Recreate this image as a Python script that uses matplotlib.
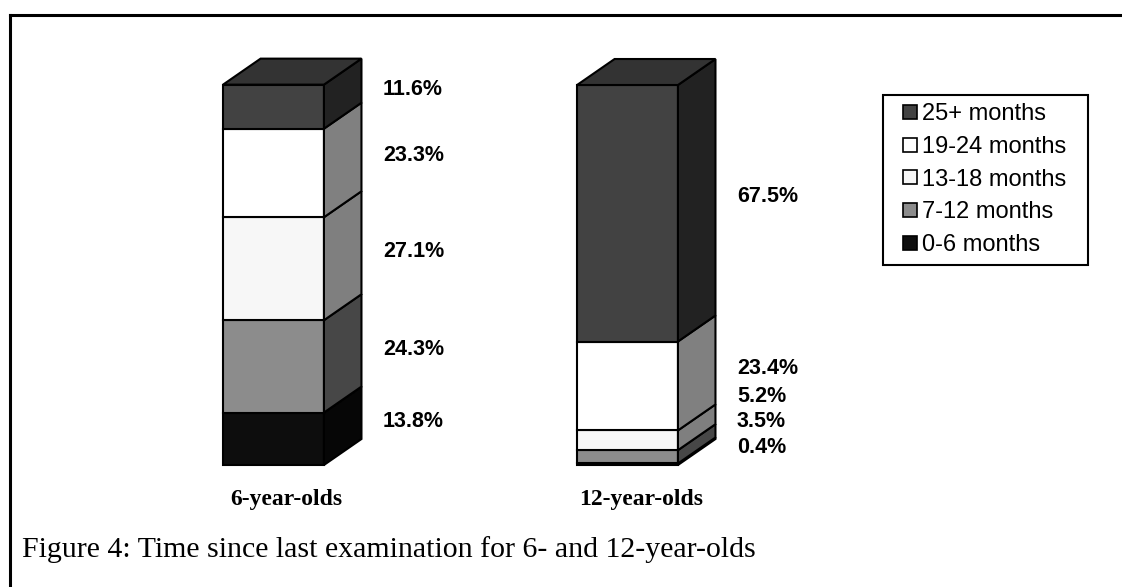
"""Figure 4 : barres empilées en pseudo-3D, temps depuis le dernier examen (6 et 12 ans)."""
import numpy as np
import matplotlib.pyplot as plt
from matplotlib.patches import Polygon
from matplotlib.lines import Line2D

GROUPS = ["6-year-olds", "12-year-olds"]
CATEGORIES = ["0-6 months", "7-12 months", "13-18 months", "19-24 months", "25+ months"]
SIX_YEAR = [13.8, 24.3, 27.1, 23.3, 11.6]
TWELVE_YEAR = [0.4, 3.5, 5.2, 23.4, 67.5]

FRONT = ["#0d0d0d", "#8c8c8c", "#f7f7f7", "#ffffff", "#424242"]
SIDE = ["#060606", "#474747", "#7f7f7f", "#808080", "#222222"]
TOP = ["#080808", "#6a6a6a", "#bcbcbc", "#c0c0c0", "#333333"]

W, H = 1122, 587
BAR_W = 0.285         # largeur de la face avant (unités x)
DX, DY = 0.106, 6.84  # profondeur 3D (x en unités, y en %)


def draw_bar(ax, x0, values):
    bottom = 0.0
    xl, xr = x0 - BAR_W / 2, x0 + BAR_W / 2
    for i, v in enumerate(values):
        top = bottom + v
        ax.add_patch(Polygon([(xl, bottom), (xr, bottom), (xr, top), (xl, top)],
                             fc=FRONT[i], ec="black", lw=1.5, clip_on=False, joinstyle="miter"))
        ax.add_patch(Polygon([(xr, bottom), (xr + DX, bottom + DY), (xr + DX, top + DY), (xr, top)],
                             fc=SIDE[i], ec="black", lw=1.5, clip_on=False, joinstyle="miter"))
        bottom = top
    # face du dessus (dernier segment)
    ax.add_patch(Polygon([(xl, bottom), (xr, bottom), (xr + DX, bottom + DY), (xl + DX, bottom + DY)],
                         fc=TOP[len(values) - 1], ec="black", lw=1.5, clip_on=False,
                         joinstyle="miter"))

    # étiquettes : centre du segment décalé vers le haut, écartées si trop proches
    centers = np.cumsum(values) - np.array(values) / 2
    prev = -np.inf
    for v, c in zip(values, centers):
        y = max(c + 4.5, prev + 6.7)
        prev = y
        ax.text(x0 + 0.309, y, f"{v:.1f}%", ha="left", va="center",
                fontsize=15.5, fontweight="bold", family="Liberation Sans")


def main():
    fig = plt.figure(figsize=(W / 100, H / 100), dpi=100)
    ax = fig.add_axes([0, 1 - 465 / H, 1, 380 / H])
    ax.set_xlim(-273.5 / 354, (W - 273.5) / 354)
    ax.set_ylim(0, 100)
    ax.axis("off")

    for x0, vals in zip(range(len(GROUPS)), [SIX_YEAR, TWELVE_YEAR]):
        draw_bar(ax, x0, vals)
        tx = ax.transData.transform((x0 + DX * 0.35, 0))[0] / W
        fig.text(tx, 1 - 500 / H, GROUPS[x0], ha="center", va="center",
                 fontsize=17, fontweight="bold", family="Liberation Serif")

    handles = [Line2D([], [], ls="none", marker="s", markersize=9.4, mfc=FRONT[i],
                      mec="black", mew=1.2) for i in range(len(CATEGORIES))][::-1]
    leg = fig.legend(handles, [c + "  " for c in CATEGORIES[::-1]], loc="upper left",
                     bbox_to_anchor=(883 / W, 1 - 95 / H), fancybox=False, framealpha=1,
                     edgecolor="black", handlelength=1.6, handletextpad=-0.3,
                     labelspacing=0.45, borderpad=0.36, borderaxespad=0,
                     prop={"family": "Liberation Sans", "size": 17})
    leg.get_frame().set_linewidth(1.5)

    fig.text(22 / W, 1 - 550 / H, "Figure 4: Time since last examination for 6- and 12-year-olds",
             ha="left", va="center", fontsize=21.5, family="Liberation Serif")

    # cadre (haut et gauche)
    fig.add_artist(Line2D([10 / W, 1], [1 - 15 / H, 1 - 15 / H], color="black", lw=2.2,
                          transform=fig.transFigure))
    fig.add_artist(Line2D([10 / W, 10 / W], [1 - 15 / H, 0], color="black", lw=2.2,
                          transform=fig.transFigure))

    fig.savefig("out.png", dpi=100)


if __name__ == "__main__":
    main()
